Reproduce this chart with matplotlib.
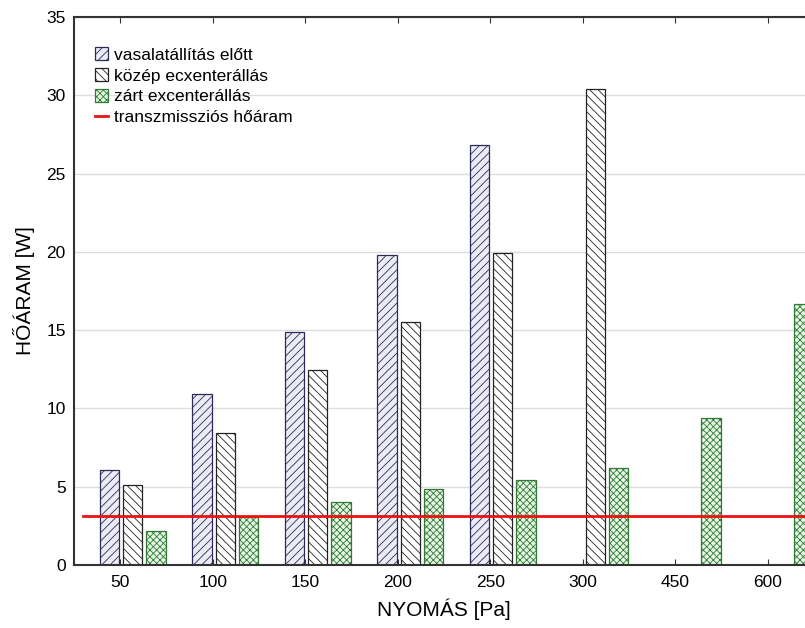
import numpy as np
import matplotlib
matplotlib.use("Agg")
import matplotlib.pyplot as plt

categories = ["50", "100", "150", "200", "250", "300", "450", "600"]
vasalat = [6.05, 10.9, 14.9, 19.8, 26.8, np.nan, np.nan, np.nan]
kozep = [5.1, 8.45, 12.45, 15.5, 19.95, 30.4, np.nan, np.nan]
zart = [2.15, 3.05, 4.05, 4.85, 5.45, 6.2, 9.37, 16.65]
transzmisszio = 3.1

series_labels = ["vasalatállítás előtt", "közép ecxenterállás",
                 "zárt excenterállás", "transzmissziós hőáram"]

plt.rcParams['font.family'] = ['Liberation Sans', 'DejaVu Sans']
plt.rcParams['hatch.linewidth'] = 0.6

fig = plt.figure(figsize=(8.05, 6.28), dpi=100)
ax = fig.add_axes([74/805, 63/628, 740/805, 548/628])

x = np.arange(len(categories))
w = 0.21
b1 = ax.bar(x - 0.115, vasalat, w, facecolor="#ececf6", edgecolor="#2b2b5a",
            hatch="////", linewidth=0.9, label=series_labels[0], zorder=2)
b2 = ax.bar(x + 0.135, kozep, w, facecolor="white", edgecolor="#222222",
            hatch="\\\\\\\\", linewidth=0.9, label=series_labels[1], zorder=2)
b3 = ax.bar(x + 0.385, zart, w, facecolor="#e6f5e4", edgecolor="#2f7a34",
            hatch="xxxxx", linewidth=0.9, label=series_labels[2], zorder=2)
ln = ax.axhline(transzmisszio, xmin=0.0125, xmax=1, color="#ee1111", lw=2,
                label=series_labels[3], zorder=3)

ax.set_xlim(-0.5, 7.5)
ax.set_ylim(0, 35)
ax.set_yticks(np.arange(0, 36, 5))
ax.set_xticks(x)
ax.set_xticklabels(categories)
ax.yaxis.grid(True, color="#dddddd", lw=1)
ax.set_axisbelow(True)
ax.tick_params(axis='x', direction='in', length=4, top=True, labelsize=12.5,
               pad=7, color="#333333")
ax.tick_params(axis='y', length=0, labelsize=12.5, pad=6)
for s in ["left", "bottom", "top"]:
    ax.spines[s].set_linewidth(1.5)
    ax.spines[s].set_color("#333333")
ax.spines["right"].set_visible(False)

ax.set_xlabel("NYOMÁS [Pa]", fontsize=15, labelpad=6)
ax.set_ylabel("HŐÁRAM [W]", fontsize=15, labelpad=8)

leg = ax.legend(handles=[b1, b2, b3, ln], labels=series_labels,
                loc="upper left", bbox_to_anchor=(0.029, 0.945), frameon=False,
                fontsize=12.5, handlelength=0.7, handleheight=0.75,
                handletextpad=0.35, labelspacing=0.32, borderaxespad=0,
                borderpad=0)

fig.savefig("out.png", dpi=100)
